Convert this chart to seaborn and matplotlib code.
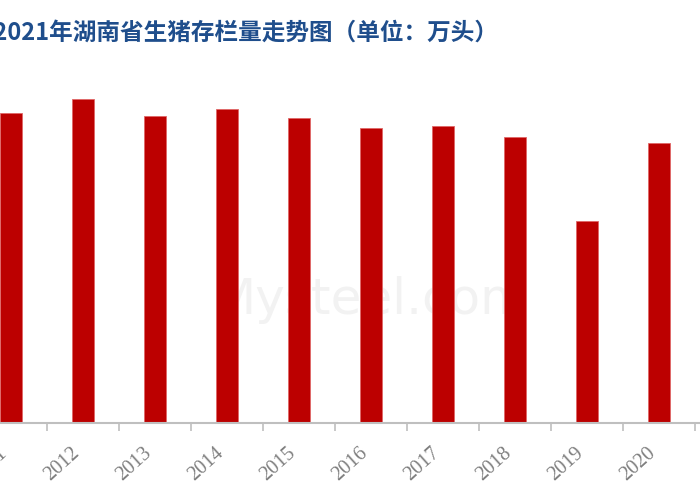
import matplotlib
matplotlib.use('Agg')
import matplotlib.pyplot as plt
import seaborn as sns
import pandas as pd
import numpy as np

# 湖南省生猪存栏量（万头），读图估计
years = ["2011", "2012", "2013", "2014", "2015", "2016",
         "2017", "2018", "2019", "2020", "2021"]
stock = [4309, 4499, 4267, 4360, 4240, 4096, 4119, 3975, 2808, 3888, 4140]
title = "2011-2021年湖南省生猪存栏量走势图（单位：万头）"

df = pd.DataFrame({"year": years, "stock": stock})

sns.set_theme(style="white")
plt.rcParams['font.family'] = ['Noto Sans CJK SC', 'DejaVu Sans']

fig = plt.figure(figsize=(7, 5), dpi=100)
# 原图是截取的，左右两端被裁掉
ax = fig.add_axes([0, 77 / 500, 1, 360 / 500])

sns.barplot(data=df, x="year", y="stock", color="#BC0000", width=0.31,
            saturation=1, edgecolor="#E06666", linewidth=0.6, ax=ax, zorder=2)

ax.set_xlabel("")
ax.set_ylabel("")
ax.set_yticks([])

for s in ["top", "right", "left"]:
    ax.spines[s].set_visible(False)
ax.spines["bottom"].set_color("#BFBFBF")
ax.spines["bottom"].set_linewidth(1.5)

pos = np.arange(len(years))
ax.set_xticks(pos)
ax.set_xticklabels(years, rotation=42, ha="right", family="Liberation Serif",
                   fontsize=14.5, color="#7F7F7F")
ax.tick_params(axis="x", which="major", length=0, pad=15)
ax.set_xticks(np.arange(-0.5, len(years)), minor=True)
ax.tick_params(axis="x", which="minor", length=6, width=1.2, color="#BFBFBF",
               direction="out", bottom=True)

# 刻度设置后再定范围
ax.set_ylim(0, 5000)
ax.set_xlim(-11 / 72, (700 - 11) / 72)

# 水印（在柱子下面）
ax.text(0.53, 0.40, "Mysteel.com", fontsize=36, color="#F2F2F2",
        ha="center", va="center", family="DejaVu Sans", zorder=0,
        transform=fig.transFigure)

fig.text(498 / 700, 1 - 33 / 500, title, ha="right", va="center",
         fontsize=17, fontweight="bold", color="#1F4E8C")

fig.savefig("out.png", dpi=100)
plt.close(fig)
